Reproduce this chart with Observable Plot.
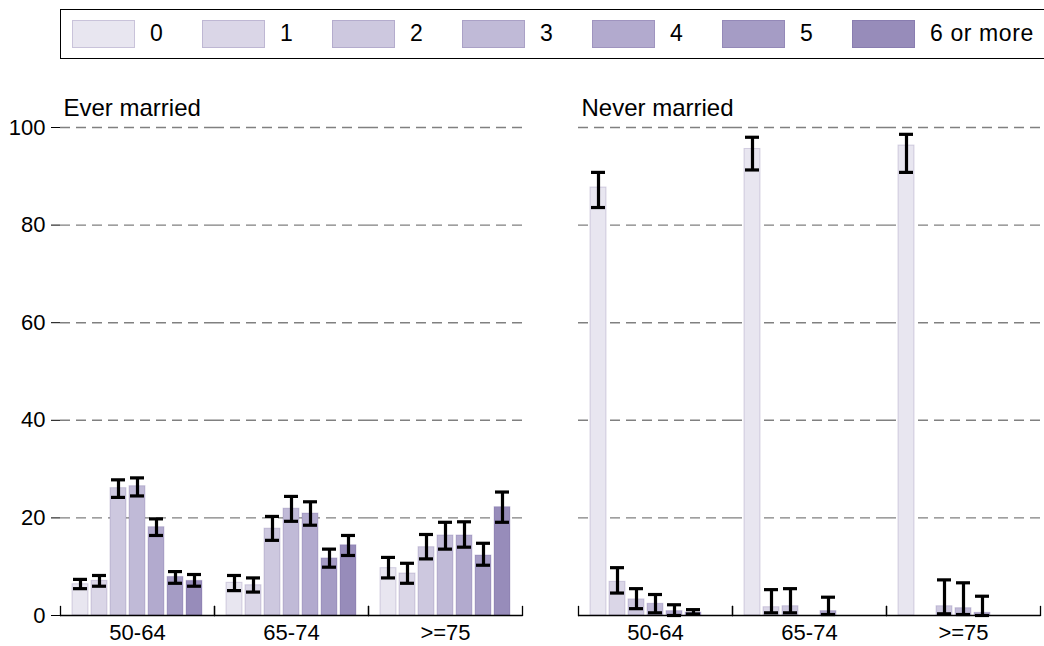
<!DOCTYPE html>
<html>
<head>
<meta charset="utf-8">
<script src="https://cdn.jsdelivr.net/npm/d3@7"></script>
<script src="https://cdn.jsdelivr.net/npm/@observablehq/plot@0.6"></script>
<style>
  body { margin: 0; background: #fff; font-family: "Liberation Sans", Arial, sans-serif; width: 1044px; height: 646px; overflow: hidden; position: relative; }
  #legend { position: absolute; left: 60px; top: 9px; width: 1010px; height: 50px; border: 1.5px solid #000; box-sizing: border-box; }
  .item { position: absolute; top: 10px; height: 27px; display: flex; align-items: center; white-space: nowrap; }
  .sw { display: inline-block; width: 61px; height: 26px; border: 1px solid rgba(90,74,140,0.22); }
  .lb { margin-left: 15px; font-size: 23px; letter-spacing: 0.6px; color: #000; }
  #charts { position: absolute; left: 0; top: 66px; display: flex; }
</style>
</head>
<body>
<div id="legend"></div>
<div id="charts"><div id="left"></div><div id="right"></div></div>
<script>
const ageGroups = ["50-64", "65-74", ">=75"];
const children = ["0", "1", "2", "3", "4", "5", "6 or more"];
const colors = ["#e8e6f0", "#dad6e7", "#cdc8df", "#c0bad7", "#b2aace", "#a59cc5", "#978cba"];
const yTicks = [0, 20, 40, 60, 80, 100];
const gridTicks = [20, 40, 60, 80, 100];

// Ever married: percent by age group (rows) and number of children (columns)
const everValue = [
  [6.4, 7.1, 26.1, 26.5, 18.1, 7.9, 7.1],
  [6.7, 6.2, 17.8, 21.9, 20.9, 11.7, 14.4],
  [9.7, 8.6, 14.0, 16.4, 16.4, 12.3, 22.2]
];
const everLower = [
  [5.5, 6.0, 24.2, 24.5, 16.4, 6.6, 6.0],
  [5.1, 4.8, 15.4, 19.3, 18.5, 9.9, 12.3],
  [7.7, 6.6, 11.6, 13.6, 14.0, 10.3, 19.1]
];
const everUpper = [
  [7.4, 8.2, 27.8, 28.2, 19.8, 9.0, 8.4],
  [8.2, 7.7, 20.3, 24.4, 23.3, 13.6, 16.4],
  [11.9, 10.7, 16.6, 19.1, 19.2, 14.8, 25.3]
];

// Never married
const neverValue = [
  [87.7, 6.9, 3.3, 2.4, 0.9, 0.6, 0],
  [95.6, 1.7, 1.9, 0, 0.9, 0, 0],
  [96.3, 0, 1.9, 1.5, 0.55, 0, 0]
];
const neverLower = [
  [83.6, 4.6, 1.4, 0.55, 0, 0.3, null],
  [91.3, 0.55, 0.55, null, 0.2, null, null],
  [90.8, null, 0.35, 0.2, 0, null, null]
];
const neverUpper = [
  [90.8, 9.8, 5.5, 4.3, 2.2, 1.2, null],
  [98.0, 5.3, 5.5, null, 3.75, null, null],
  [98.6, null, 7.3, 6.7, 3.95, null, null]
];

function table(vals, lo, hi) {
  return ageGroups.flatMap((a, i) => children.map((c, j) => ({
    age: a, count: c, value: vals[i][j], lo: lo[i][j], hi: hi[i][j]
  })));
}

// Legend
const legend = document.getElementById("legend");
children.forEach((c, i) => {
  const it = document.createElement("div");
  it.className = "item";
  it.style.left = (11 + 130 * i) + "px";
  const sw = document.createElement("span");
  sw.className = "sw";
  sw.style.background = colors[i];
  const lb = document.createElement("span");
  lb.className = "lb";
  lb.textContent = c;
  it.appendChild(sw); it.appendChild(lb);
  legend.appendChild(it);
});

const H = 580, MT = 61, MB = 31;
const innerH = H - MT - MB;

function panel(data, title, opts) {
  const errs = data.filter(d => d.lo != null && d.hi != null);
  return Plot.plot({
    width: opts.width,
    height: H,
    marginTop: MT,
    marginBottom: MB,
    marginLeft: opts.marginLeft,
    marginRight: opts.marginRight,
    style: { fontFamily: "'Liberation Sans', Arial, sans-serif", fontSize: "22px", color: "#000", background: "#fff", overflow: "visible" },
    fx: { domain: ageGroups, padding: 0, label: null, tickSize: 0, tickPadding: 9, axis: "bottom" },
    x: { domain: children, paddingInner: 0.17, paddingOuter: 0.58, axis: null },
    y: opts.showY
      ? { domain: [0, 100], ticks: yTicks, tickSize: 9, tickPadding: 6, label: null }
      : { domain: [0, 100], axis: null },
    color: { domain: children, range: colors },
    marks: [
      Plot.gridY(gridTicks, { stroke: "#808080", strokeOpacity: 1, strokeWidth: 1.4, strokeDasharray: "10,6" }),
      Plot.barY(data, { fx: "age", x: "count", y: "value", fill: "count", stroke: "#5a4a8c", strokeOpacity: 0.22, strokeWidth: 1 }),
      Plot.ruleX(errs, { fx: "age", x: "count", y1: "lo", y2: "hi", stroke: "#000", strokeWidth: 3.2 }),
      Plot.tickY(errs, { fx: "age", x: "count", y: "lo", stroke: "#000", strokeWidth: 3.2, insetLeft: 1, insetRight: 1 }),
      Plot.tickY(errs, { fx: "age", x: "count", y: "hi", stroke: "#000", strokeWidth: 3.2, insetLeft: 1, insetRight: 1 }),
      Plot.ruleY([0], { stroke: "#000", strokeWidth: 1.5 }),
      Plot.frame({ anchor: "left", stroke: "#000", strokeWidth: 1.3, insetTop: innerH - 9 }),
      Plot.frame({ anchor: "right", stroke: "#000", strokeWidth: 1.3, insetTop: innerH - 9 }),
      Plot.text([title], { fx: () => ageGroups[0], frameAnchor: "top-left", dx: 3, dy: -12, lineAnchor: "bottom", textAnchor: "start", fontSize: 24, fill: "#000" })
    ]
  });
}

document.getElementById("left").appendChild(
  panel(table(everValue, everLower, everUpper), "Ever married", { width: 530, marginLeft: 59, marginRight: 8, showY: true })
);
document.getElementById("right").appendChild(
  panel(table(neverValue, neverLower, neverUpper), "Never married", { width: 514, marginLeft: 47, marginRight: 4, showY: false })
);
</script>
</body>
</html>
